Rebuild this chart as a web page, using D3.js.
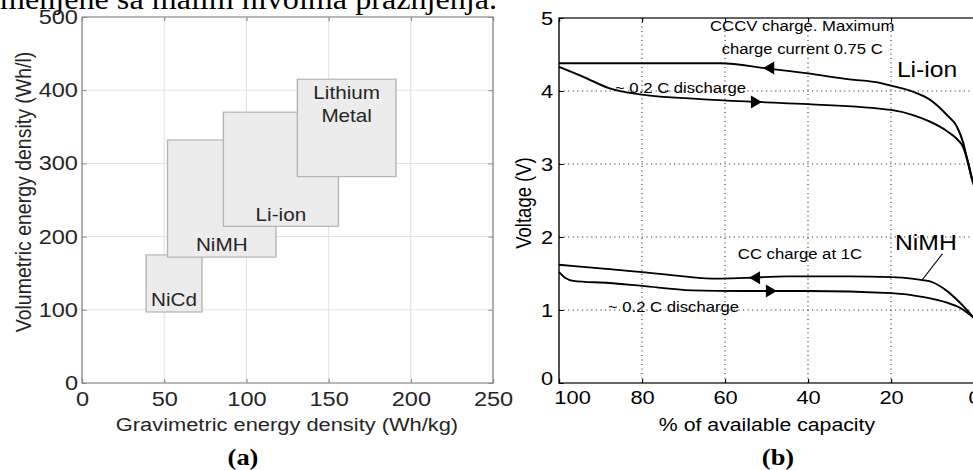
<!DOCTYPE html>
<html>
<head>
<meta charset="utf-8">
<script src="https://cdn.jsdelivr.net/npm/d3@7"></script>
<style>
body { margin: 0; background: #fff; overflow: hidden; }
svg { display: block; }
text { font-family: "Liberation Sans", Arial, sans-serif; }
</style>
</head>
<body>
<script>
// (a) energy density ranges per chemistry
var chemistries = ["NiCd", "NiMH", "Li-ion", "Lithium Metal"],
    gravMin = [39, 52, 86, 131],
    gravMax = [73, 118, 156, 191],
    volMin = [97, 172, 214, 282],
    volMax = [175, 332, 370, 415];
var gravTicks = [0, 50, 100, 150, 200, 250],
    volTicks = [0, 100, 200, 300, 400, 500];

// (b) voltage vs % of available capacity
var liCapCharge = [100, 61, 50, 40, 30, 22.7, 19.8, 14.7, 10.6, 6.5, 4.1, 2.6, 2.0, 1.2, 0.5, 0],
    liVCharge   = [4.38, 4.38, 4.31, 4.24, 4.16, 4.11, 4.07, 3.99, 3.88, 3.67, 3.51, 3.29, 3.15, 2.97, 2.80, 2.71],
    liCapDis = [100, 94, 88, 80, 66, 52, 40, 20, 14.7, 10.6, 6.5, 3.9, 2.6, 2.0, 1.2, 0.5, 0],
    liVDis   = [4.33, 4.19, 4.04, 3.95, 3.89, 3.85, 3.82, 3.74, 3.67, 3.58, 3.45, 3.33, 3.23, 3.13, 2.96, 2.80, 2.71],
    niCapCharge = [100, 90, 80, 70, 62, 55, 45, 30, 20, 15, 12.5, 10, 6.5, 3.4, 0],
    niVCharge   = [1.62, 1.57, 1.52, 1.46, 1.43, 1.44, 1.46, 1.46, 1.45, 1.43, 1.41, 1.38, 1.26, 1.10, 0.89],
    niCapDis = [100, 98.5, 96.6, 88, 80, 68, 56, 40, 20, 12.5, 6.5, 3.4, 0],
    niVDis   = [1.52, 1.44, 1.40, 1.37, 1.33, 1.27, 1.26, 1.26, 1.23, 1.18, 1.10, 1.03, 0.89];
var capTicks = [100, 80, 60, 40, 20, 0],
    voltTicks = [0, 1, 2, 3, 4, 5];

// the scan is stretched sideways, so draw narrow and stretch everything
var SX = 1.15;
function px(v) { return v / SX; }

var svg = d3.select("body").append("svg")
    .attr("width", 973)
    .attr("height", 470);

var root = svg.append("g").attr("transform", "scale(" + SX + ",1)");

// cut off line of the page text above the figure
root.append("text")
    .attr("x", 0)
    .attr("y", 9)
    .attr("textLength", px(497))
    .attr("lengthAdjust", "spacingAndGlyphs")
    .style("font-family", '"Liberation Serif", "Times New Roman", serif')
    .style("font-size", "30px")
    .text("menjene sa malim nivoima pražnjenja.");

// ---------- (a) ----------
var xa = d3.scaleLinear().domain([0, 250]).range([px(82), px(493)]),
    ya = d3.scaleLinear().domain([0, 500]).range([383, 17]);

var ga = root.append("g");

// grid
ga.selectAll("line.vgrid").data(gravTicks.slice(1, -1)).enter().append("line")
    .attr("x1", d => xa(d)).attr("x2", d => xa(d))
    .attr("y1", ya(0)).attr("y2", ya(500))
    .attr("stroke", "#e3e3e3");
ga.selectAll("line.hgrid").data(volTicks.slice(1, -1)).enter().append("line")
    .attr("x1", xa(0)).attr("x2", xa(250))
    .attr("y1", d => ya(d)).attr("y2", d => ya(d))
    .attr("stroke", "#e3e3e3");

// boxes, later ones on top
var boxes = ga.selectAll("g.box").data(chemistries).enter().append("g").attr("class", "box");
boxes.append("rect")
    .attr("x", (d, i) => xa(gravMin[i]))
    .attr("y", (d, i) => ya(volMax[i]))
    .attr("width", (d, i) => xa(gravMax[i]) - xa(gravMin[i]))
    .attr("height", (d, i) => ya(volMin[i]) - ya(volMax[i]))
    .attr("fill", "#ececec")
    .attr("stroke", "#b4b4b4")
    .attr("stroke-width", 1.2);

boxes.each(function(d, i) {
    var cx = xa((gravMin[i] + gravMax[i]) / 2),
        words = d.split(" "),
        t = d3.select(this);
    if (words.length > 1) {
        // two-line label hangs from the top
        words.forEach(function(w, k) {
            t.append("text")
                .attr("x", cx).attr("y", ya(volMax[i]) + 13 + k * 23)
                .attr("dy", "0.35em")
                .attr("text-anchor", "middle")
                .attr("fill", "#262626")
                .style("font-size", "18px")
                .text(w);
        });
    } else {
        t.append("text")
            .attr("x", cx).attr("y", ya(volMin[i]) - 12)
            .attr("dy", "0.35em")
            .attr("text-anchor", "middle")
            .attr("fill", "#262626")
            .style("font-size", "18px")
            .text(d);
    }
});

// axes
var axA = ga.append("g").attr("transform", "translate(0," + ya(0) + ")")
    .call(d3.axisBottom(xa).tickValues(gravTicks).tickSize(-4).tickPadding(8));
var axAt = ga.append("g").attr("transform", "translate(0," + ya(500) + ")")
    .call(d3.axisTop(xa).tickValues(gravTicks).tickSize(-4).tickFormat(""));
var ayA = ga.append("g").attr("transform", "translate(" + xa(0) + ",0)")
    .call(d3.axisLeft(ya).tickValues(volTicks).tickSize(-4).tickPadding(3.5));
var ayAr = ga.append("g").attr("transform", "translate(" + xa(250) + ",0)")
    .call(d3.axisRight(ya).tickValues(volTicks).tickSize(-4).tickFormat(""));
[axA, axAt, ayA, ayAr].forEach(function(a) {
    a.select(".domain").remove();
    a.selectAll("line").attr("stroke", "#8a8a8a");
    a.selectAll("text").attr("fill", "#262626").style("font-size", "20.5px").style("font-family", null);
});
ga.append("rect")
    .attr("x", xa(0)).attr("y", ya(500))
    .attr("width", xa(250) - xa(0)).attr("height", ya(0) - ya(500))
    .attr("fill", "none").attr("stroke", "#8a8a8a").attr("stroke-width", 1.2);

ga.append("text")
    .attr("x", px(287)).attr("y", 424).attr("dy", "0.35em")
    .attr("text-anchor", "middle").attr("fill", "#262626")
    .style("font-size", "19px")
    .text("Gravimetric energy density (Wh/kg)");
ga.append("text")
    .attr("transform", "translate(" + px(23) + ",192) rotate(-90)")
    .attr("dy", "0.35em")
    .attr("text-anchor", "middle").attr("fill", "#262626")
    .style("font-size", "19.5px")
    .text("Volumetric energy density (Wh/l)");
ga.append("text")
    .attr("x", px(243)).attr("y", 457).attr("dy", "0.35em")
    .attr("text-anchor", "middle")
    .style("font-family", '"Liberation Serif", "Times New Roman", serif')
    .style("font-weight", "bold").style("font-size", "23px")
    .text("(a)");

// ---------- (b) ----------
var xb = d3.scaleLinear().domain([100, 0]).range([px(559), px(974)]),
    yb = d3.scaleLinear().domain([0, 5]).range([383, 18]);

var gb = root.append("g");

// dotted grid
gb.selectAll("line.vgrid").data(capTicks.slice(1, -1)).enter().append("line")
    .attr("x1", d => xb(d)).attr("x2", d => xb(d))
    .attr("y1", yb(0)).attr("y2", yb(5))
    .attr("stroke", "#333").attr("stroke-dasharray", "1,3.5");
gb.selectAll("line.hgrid").data(voltTicks.slice(1, -1)).enter().append("line")
    .attr("x1", xb(100)).attr("x2", xb(0))
    .attr("y1", d => yb(d)).attr("y2", d => yb(d))
    .attr("stroke", "#333").attr("stroke-dasharray", "1,3");

var curves = [
    [liCapCharge, liVCharge, -1, 50.8],
    [liCapDis, liVDis, 1, 51.1],
    [niCapCharge, niVCharge, -1, 54.2],
    [niCapDis, niVDis, 1, 47.5]
];

var line = d3.line()
    .x(d => xb(d[0]))
    .y(d => yb(d[1]))
    .curve(d3.curveMonotoneX);

function interpV(caps, vs, c) {
    for (var k = 0; k < caps.length - 1; k++) {
        if (c <= caps[k] && c >= caps[k + 1]) {
            var t = (caps[k] - c) / (caps[k] - caps[k + 1]);
            return vs[k] + t * (vs[k + 1] - vs[k]);
        }
    }
    return vs[vs.length - 1];
}

curves.forEach(function(cv) {
    var pts = cv[0].map((c, k) => [c, cv[1][k]]);
    gb.append("path")
        .attr("d", line(pts))
        .attr("fill", "none")
        .attr("stroke", "#000")
        .attr("stroke-width", 1.8);

    // direction arrow: -1 points to full (left), 1 points to empty (right)
    var tx = xb(cv[3]), ty = yb(interpV(cv[0], cv[1], cv[3])),
        len = px(11) * -cv[2];
    gb.append("path")
        .attr("d", "M" + tx + "," + ty + "L" + (tx + len) + "," + (ty - 6.5) +
                   "L" + (tx + len) + "," + (ty + 6.5) + "Z")
        .attr("fill", "#000");
});

// axes
var axB = gb.append("g").attr("transform", "translate(0," + yb(0) + ")")
    .call(d3.axisBottom(xb).tickValues(capTicks).tickSize(-4).tickPadding(8).tickFormat(d3.format("d")));
var axBt = gb.append("g").attr("transform", "translate(0," + yb(5) + ")")
    .call(d3.axisTop(xb).tickValues(capTicks).tickSize(-4).tickFormat(""));
var ayB = gb.append("g").attr("transform", "translate(" + xb(100) + ",0)")
    .call(d3.axisLeft(yb).tickValues(voltTicks).tickSize(-4).tickPadding(5).tickFormat(d3.format("d")));
[axB, axBt, ayB].forEach(function(a) {
    a.select(".domain").remove();
    a.selectAll("line").attr("stroke", "#000");
    a.selectAll("text").attr("fill", "#000").style("font-size", "19px").style("font-family", null);
});
// the first tick label sits a little right of its tick in the scan
axB.selectAll(".tick text").filter(d => d === 100).attr("dx", px(13));
ayB.selectAll(".tick text").filter(d => d === 0).attr("dy", "0.1em");

gb.append("rect")
    .attr("x", xb(100)).attr("y", yb(5))
    .attr("width", xb(0) - xb(100)).attr("height", yb(0) - yb(5))
    .attr("fill", "none").attr("stroke", "#000").attr("stroke-width", 1.2);

// annotations
function note(txt, c, v, anchor, size) {
    return gb.append("text")
        .attr("x", xb(c)).attr("y", yb(v)).attr("dy", "0.35em")
        .attr("text-anchor", anchor)
        .style("font-size", size + "px")
        .text(txt);
}
note("CCCV charge. Maximum", 41.4, 4.89, "middle", 14.5);
note("charge current 0.75 C", 41.4, 4.58, "middle", 14.5);
note("Li-ion", 11.3, 4.30, "middle", 21.5);
note("~ 0.2 C discharge", 86.5, 4.04, "start", 14.5);
note("NiMH", 11.6, 1.92, "middle", 21.5);
note("CC charge at 1C", 27, 1.77, "end", 14.5);
note("~ 0.2 C discharge", 88.2, 1.04, "start", 14.5);

// leader from NiMH label down to the charge curve
gb.append("line")
    .attr("x1", xb(7.6)).attr("y1", yb(1.77))
    .attr("x2", xb(12.5)).attr("y2", yb(interpV(niCapCharge, niVCharge, 12.5)))
    .attr("stroke", "#000").attr("stroke-width", 1);

gb.append("text")
    .attr("x", px(767)).attr("y", 425).attr("dy", "0.35em")
    .attr("text-anchor", "middle")
    .style("font-size", "18.5px")
    .text("% of available capacity");
gb.append("text")
    .attr("transform", "translate(" + px(524) + ",203) rotate(-90)")
    .attr("dy", "0.35em")
    .attr("text-anchor", "middle")
    .style("font-size", "18.5px")
    .text("Voltage (V)");
gb.append("text")
    .attr("x", px(778)).attr("y", 457).attr("dy", "0.35em")
    .attr("text-anchor", "middle")
    .style("font-family", '"Liberation Serif", "Times New Roman", serif')
    .style("font-weight", "bold").style("font-size", "23px")
    .text("(b)");
</script>
</body>
</html>
